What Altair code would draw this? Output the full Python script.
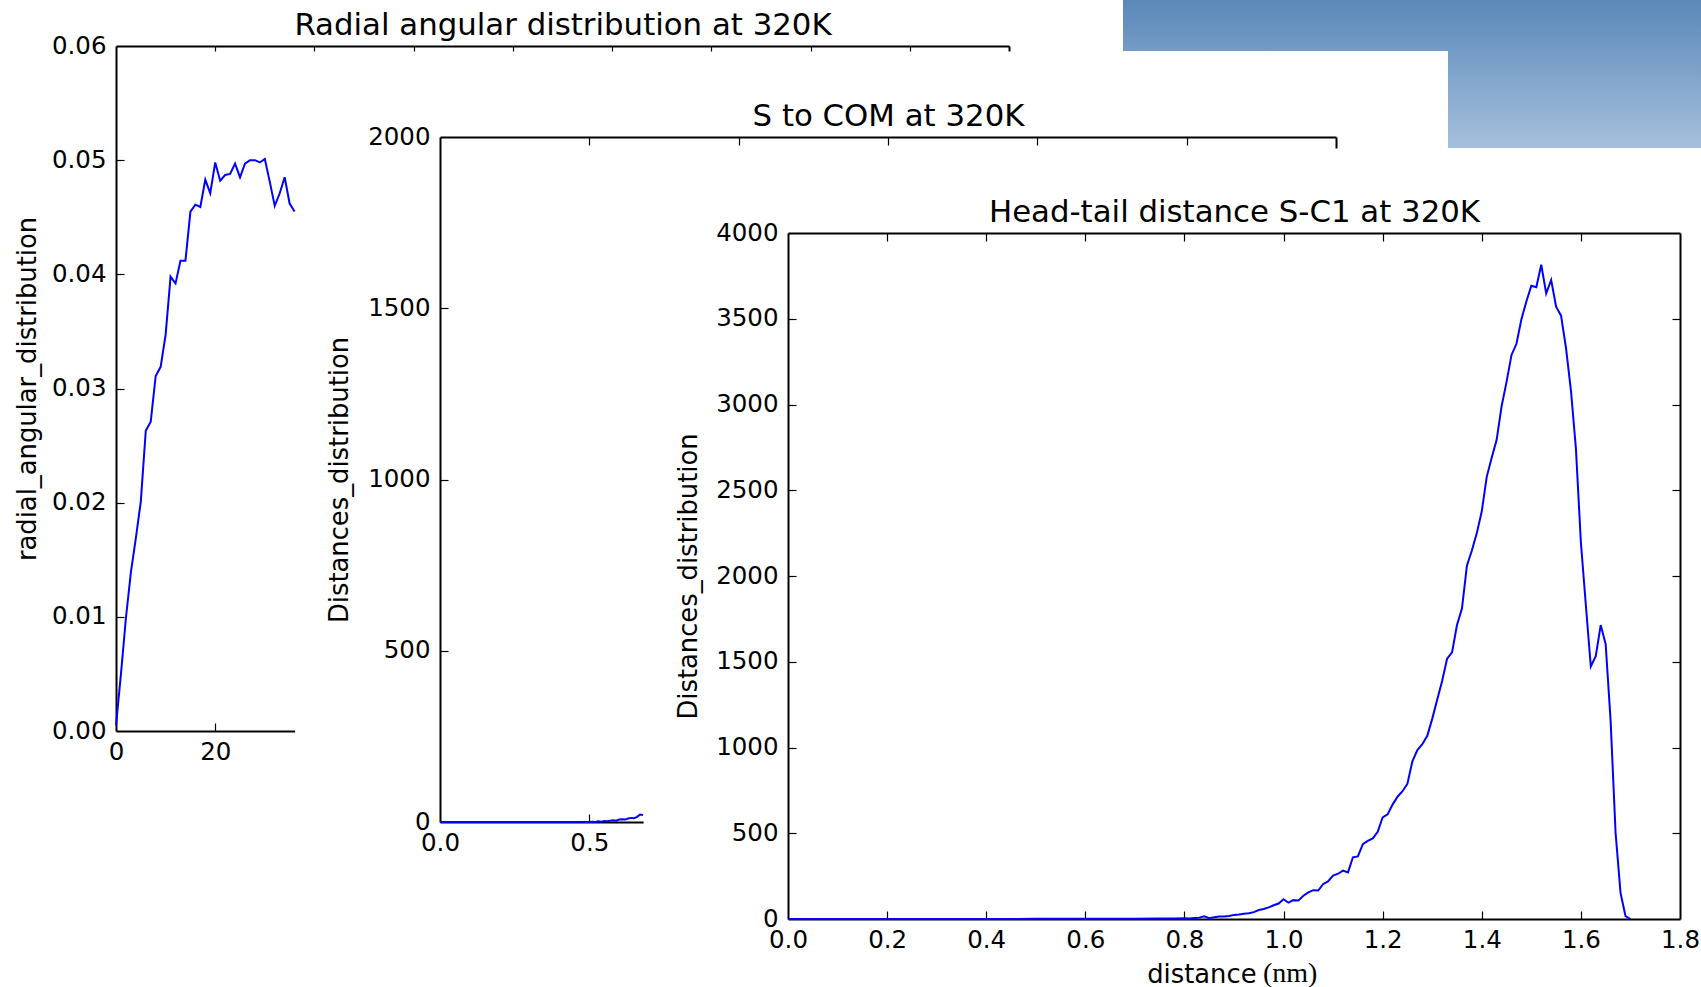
import altair as alt
import pandas as pd

W, H = 1701, 987
SANS = "DejaVu Sans"
SERIF = "Liberation Serif"
TICK_FS = 24.5
LABEL_FS = 25.8
TITLE_FS = 30.8
BLUE = "#0000ff"

# ---------------- data ----------------
# Radial angular distribution at 320K (angle in degrees)
radial_angle = [0, 1, 2, 3, 4, 5, 6, 7, 8, 9, 10, 11, 12, 13, 14, 15, 16, 17, 18,
                19, 20, 21, 22, 23, 24, 25, 26, 27, 28, 29, 30, 31, 32, 33, 34, 35, 36]
radial_value = [0.0005, 0.0050, 0.0099, 0.0139, 0.0169, 0.0201, 0.0263, 0.0271,
                0.0311, 0.0319, 0.0347, 0.0398, 0.0392, 0.0412, 0.0412, 0.0455,
                0.0461, 0.0459, 0.0483, 0.0471, 0.0498, 0.0482, 0.0487, 0.0488,
                0.0497, 0.0485, 0.0497, 0.0500, 0.0500, 0.0498, 0.0501, 0.0481,
                0.0460, 0.0471, 0.0485, 0.0462, 0.0455]

# S to COM distance distribution at 320K (nm)
com_dist = [0.0, 0.50, 0.51, 0.52, 0.53, 0.54, 0.55, 0.56, 0.57, 0.58, 0.59,
            0.60, 0.61, 0.62, 0.63, 0.64, 0.65, 0.66, 0.67, 0.68]
com_count = [0, 0, 1, 0, 2, 1, 3, 2, 4, 5, 4, 7, 8, 7, 10, 12, 11, 15, 22, 20]

# Head-tail distance S-C1 distribution at 320K (nm)
ht_dist = [0.0, 0.2, 0.4, 0.5, 0.6, 0.65, 0.7, 0.75, 0.78,
           0.80, 0.81, 0.82, 0.83, 0.84, 0.85, 0.86, 0.87, 0.88, 0.89,
           0.90, 0.91, 0.92, 0.93, 0.94, 0.95, 0.96, 0.97, 0.98, 0.99,
           1.00, 1.01, 1.02, 1.03, 1.04, 1.05, 1.06, 1.07, 1.08, 1.09,
           1.10, 1.11, 1.12, 1.13, 1.14, 1.15, 1.16, 1.17, 1.18, 1.19,
           1.20, 1.21, 1.22, 1.23, 1.24, 1.25, 1.26, 1.27, 1.28, 1.29,
           1.30, 1.31, 1.32, 1.33, 1.34, 1.35, 1.36, 1.37, 1.38, 1.39,
           1.40, 1.41, 1.42, 1.43, 1.44, 1.45, 1.46, 1.47, 1.48, 1.49,
           1.50, 1.51, 1.52, 1.53, 1.54, 1.55, 1.56, 1.57, 1.58, 1.59,
           1.60, 1.61, 1.62, 1.63, 1.64, 1.65, 1.66, 1.67, 1.68, 1.69, 1.70]
ht_count = [0, 0, 0, 1, 1, 2, 2, 3, 3,
            4, 3, 6, 8, 16, 5, 10, 14, 15, 17,
            24, 26, 30, 33, 40, 52, 58, 68, 80, 90,
            115, 95, 110, 108, 136, 155, 168, 166, 204, 220,
            253, 264, 282, 272, 360, 365, 437, 455, 470, 508,
            593, 610, 667, 713, 745, 789, 920, 985, 1019, 1068,
            1167, 1279, 1388, 1518, 1555, 1714, 1810, 2060, 2149, 2250,
            2377, 2578, 2690, 2794, 2990, 3132, 3289, 3354, 3497, 3601,
            3692, 3684, 3815, 3648, 3726, 3570, 3518, 3328, 3080, 2742,
            2195, 1831, 1472, 1532, 1714, 1602, 1155, 503, 152, 17, 0]

# tick values
radial_yticks = [0.0, 0.01, 0.02, 0.03, 0.04, 0.05, 0.06]
radial_xticks = [0, 20, 40, 60, 80, 100, 120, 140, 160, 180]
count2k_ticks = [0, 500, 1000, 1500, 2000]
com_xticks = [0.0, 0.5, 1.0, 1.5, 2.0, 2.5, 3.0]
count4k_ticks = [0, 500, 1000, 1500, 2000, 2500, 3000, 3500, 4000]
ht_xticks = [0.0, 0.2, 0.4, 0.6, 0.8, 1.0, 1.2, 1.4, 1.6, 1.8]

# ---------------- panel geometry (pixels on the page) ----------------
RADIAL = dict(x=(116, 1009), y=(731, 46), xdom=(0, 180), ydom=(0, 0.06))
COM = dict(x=(440, 1336), y=(822, 137), xdom=(0, 3.0), ydom=(0, 2000))
HT = dict(x=(788, 1680), y=(919, 233), xdom=(0, 1.8), ydom=(0, 4000))


def px(dom, rng, v):
    return rng[0] + (v - dom[0]) / (dom[1] - dom[0]) * (rng[1] - rng[0])


def val(dom, rng, p):
    return dom[0] + (p - rng[0]) / (rng[1] - rng[0]) * (dom[1] - dom[0])


def scl(dom, rng):
    return alt.Scale(domain=list(dom), range=list(rng), nice=False, zero=False)


def inner(ticks):
    return ticks[1:-1]


SPINE = dict(labels=False, ticks=True, tickSize=8, domain=True, title="")
LABELS = dict(labels=True, ticks=False, tickSize=0, domain=False, title="",
              labelFont=SANS, labelFontSize=TICK_FS, labelColor="black")


def xaxis(dom, rng, line_y, orient, **kw):
    offset = -line_y if orient == "top" else line_y - H
    df = pd.DataFrame({"v": list(dom)})
    return alt.Chart(df).mark_point(opacity=0).encode(
        x=alt.X("v:Q", scale=scl(dom, rng),
                axis=alt.Axis(orient=orient, offset=offset, **kw)))


def yaxis(dom, rng, line_x, orient, **kw):
    offset = -line_x if orient == "left" else line_x - W
    df = pd.DataFrame({"v": list(dom)})
    return alt.Chart(df).mark_point(opacity=0).encode(
        y=alt.Y("v:Q", scale=scl(dom, rng),
                axis=alt.Axis(orient=orient, offset=offset, **kw)))


def merge(base, **kw):
    d = dict(base)
    d.update(kw)
    return d


def title_kw(text, panel):
    cx = (panel["x"][0] + panel["x"][1]) / 2
    return dict(title=text, titleX=cx, titleY=-11.5, titleAlign="center",
                titleBaseline="alphabetic", titleAngle=0, titleFont=SANS,
                titleFontSize=TITLE_FS, titleFontWeight="normal", titleColor="black")


def ylabel_kw(text, panel, baseline_x):
    cy = (panel["y"][0] + panel["y"][1]) / 2
    return dict(title=text, titleX=baseline_x - panel["x"][0], titleY=cy,
                titleAngle=270, titleAlign="center", titleBaseline="alphabetic",
                titleFont=SANS, titleFontSize=LABEL_FS, titleFontWeight="normal",
                titleColor="black")


def line(xs, ys, xdom, xrng, panel):
    df = pd.DataFrame({"d": xs, "c": ys})
    return alt.Chart(df).mark_line(color=BLUE, strokeWidth=2).encode(
        x=alt.X("d:Q", scale=scl(xdom, xrng), axis=None),
        y=alt.Y("c:Q", scale=scl(panel["ydom"], panel["y"]), axis=None))


layers = []

# ---------------- slide header band ----------------
def mix(c0, c1, t):
    a = [int(c0[i:i + 2], 16) for i in (1, 3, 5)]
    b = [int(c1[i:i + 2], 16) for i in (1, 3, 5)]
    return "#" + "".join(f"{round(a[k] + (b[k] - a[k]) * t):02x}" for k in range(3))


BAND_TOP, BAND_BOTTOM = "#5a88b9", "#a5c0dc"
one = pd.DataFrame({"k": [0]})
grad_full = alt.LinearGradient(
    gradient="linear", x1=0, x2=0, y1=0, y2=1,
    stops=[alt.GradientStop(color=BAND_TOP, offset=0),
           alt.GradientStop(color=BAND_BOTTOM, offset=1)])
grad_strip = alt.LinearGradient(
    gradient="linear", x1=0, x2=0, y1=0, y2=1,
    stops=[alt.GradientStop(color=BAND_TOP, offset=0),
           alt.GradientStop(color=mix(BAND_TOP, BAND_BOTTOM, 51 / 148), offset=1)])
layers.append(alt.Chart(one).mark_rect(fill=grad_strip).encode(
    x=alt.value(1123), x2=alt.value(1448), y=alt.value(0), y2=alt.value(51)))
layers.append(alt.Chart(one).mark_rect(fill=grad_full).encode(
    x=alt.value(1448), x2=alt.value(W), y=alt.value(0), y2=alt.value(148)))

# ---------------- panel 1: radial angular distribution ----------------
P = RADIAL
r_vis = (P["x"][0], px(P["xdom"], P["x"], 36))
layers += [
    xaxis(P["xdom"], P["x"], P["y"][1], "bottom",
          **merge(merge(SPINE, tickSize=5, values=inner(radial_xticks)),
                  **title_kw("Radial angular distribution at 320K", P))),
    xaxis((0, 36), r_vis, P["y"][0], "top", **merge(SPINE, values=[20])),
    xaxis((0, 36), r_vis, P["y"][0], "bottom",
          **merge(LABELS, values=[0, 20], format="d", labelPadding=9)),
    yaxis(P["ydom"], P["y"], P["x"][0], "right", **merge(SPINE, values=inner(radial_yticks))),
    yaxis(P["ydom"], P["y"], P["x"][0], "left",
          **merge(merge(LABELS, values=radial_yticks, format=".2f", labelPadding=10),
                  **ylabel_kw("radial_angular_distribution", P, 35))),
    yaxis((val(P["ydom"], P["y"], 51), P["ydom"][1]), (51, P["y"][1]), P["x"][1], "left",
          **merge(SPINE, ticks=False)),
    line(radial_angle, radial_value, (0, 36), r_vis, P),
]

# ---------------- panel 2: S to COM ----------------
P = COM
c_vis = (P["x"][0], px(P["xdom"], P["x"], 0.68))
layers += [
    xaxis(P["xdom"], P["x"], P["y"][1], "bottom",
          **merge(merge(SPINE, values=inner(com_xticks)),
                  **title_kw("S to COM at 320K", P))),
    xaxis((0, 0.68), c_vis, P["y"][0], "top", **merge(SPINE, values=[0.5])),
    xaxis((0, 0.68), c_vis, P["y"][0], "bottom",
          **merge(LABELS, values=[0.0, 0.5], format=".1f", labelPadding=9)),
    yaxis(P["ydom"], P["y"], P["x"][0], "right", **merge(SPINE, values=inner(count2k_ticks))),
    yaxis(P["ydom"], P["y"], P["x"][0], "left",
          **merge(merge(LABELS, values=count2k_ticks, format="d", labelPadding=10),
                  **ylabel_kw("Distances_distribution", P, 347.5))),
    yaxis((val(P["ydom"], P["y"], 148), P["ydom"][1]), (148, P["y"][1]), P["x"][1], "left",
          **merge(SPINE, ticks=False)),
    line(com_dist, com_count, (0, 0.68), c_vis, P),
]

# ---------------- panel 3: head-tail distance ----------------
P = HT
layers += [
    xaxis(P["xdom"], P["x"], P["y"][1], "bottom",
          **merge(merge(SPINE, values=inner(ht_xticks)),
                  **title_kw("Head-tail distance S-C1 at 320K", P))),
    xaxis(P["xdom"], P["x"], P["y"][0], "top", **merge(SPINE, values=inner(ht_xticks))),
    xaxis(P["xdom"], P["x"], P["y"][0], "bottom",
          **merge(LABELS, values=ht_xticks, format=".1f", labelPadding=9,
                  title="distance", titleX=1256, titleY=63, titleAlign="right",
                  titleBaseline="alphabetic", titleAngle=0, titleFont=SANS,
                  titleFontSize=LABEL_FS, titleFontWeight="normal", titleColor="black")),
    yaxis(P["ydom"], P["y"], P["x"][0], "right", **merge(SPINE, values=inner(count4k_ticks))),
    yaxis(P["ydom"], P["y"], P["x"][0], "left",
          **merge(merge(LABELS, values=count4k_ticks, format="d", labelPadding=10),
                  **ylabel_kw("Distances_distribution", P, 696.5))),
    yaxis(P["ydom"], P["y"], P["x"][1], "left", **merge(SPINE, values=inner(count4k_ticks))),
    line(ht_dist, ht_count, P["xdom"], P["x"], P),
    alt.Chart(one).mark_text(font=SERIF, fontSize=28, align="left", baseline="alphabetic",
                             color="black").encode(
        x=alt.value(1263), y=alt.value(982), text=alt.value("(nm)")),
]

chart = (
    alt.layer(*layers)
    .resolve_scale(x="independent", y="independent")
    .properties(width=W, height=H, padding=0, background="white",
                autosize=alt.AutoSizeParams(type="none"))
    .configure_view(strokeWidth=0)
    .configure_axis(grid=False, domainColor="black", domainWidth=2, tickColor="black",
                    tickWidth=1.2, labelFlush=False, labelOverlap=False, labelBound=False)
)

chart.save("out.html", embed_options={"renderer": "svg", "actions": False})
